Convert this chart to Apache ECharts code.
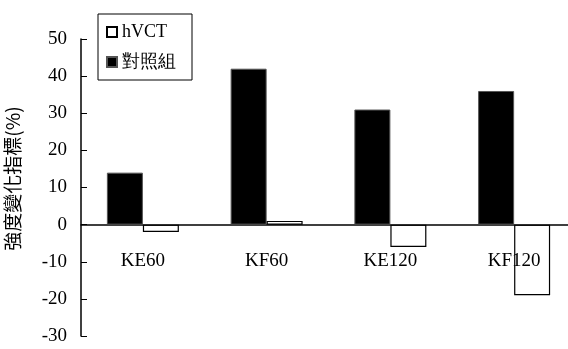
<!DOCTYPE html>
<html lang="zh-Hant">
<head>
  <meta charset="UTF-8">
  <title>強度變化指標</title>
  <style>
    html, body { margin: 0; padding: 0; background: #fff; }
    #main { width: 568px; height: 349px; }
  </style>
</head>
<body>
  <div id="main"></div>
  <script src="https://cdn.jsdelivr.net/npm/echarts@6/dist/echarts.min.js"></script>
  <script>
    var categories = ['KE60', 'KF60', 'KE120', 'KF120']
    var hvctValues = [-2, 1, -6, -19]
    var controlValues = [14, 42, 31, 36]
    var yMin = -30, yMax = 50, yStep = 10

    var serif = '"Liberation Serif", "Times New Roman", serif'
    var gridTop = 39, gridBottom = 13, gridHeight = 349 - gridTop - gridBottom
    // 把x軸(含標籤)移到0的位置
    var zeroOffset = -gridHeight * (0 - yMin) / (yMax - yMin)

    var myChart = echarts.init(document.getElementById('main'))

    var options = {
      animation: false,
      grid: { left: 81, top: gridTop, bottom: gridBottom, width: 495, outerBoundsMode: 'none' },
      legend: {
        orient: 'vertical',
        left: 98,
        top: 14,
        data: ['hVCT', '對照組'],
        icon: 'rect',
        itemWidth: 10,
        itemHeight: 10,
        itemGap: 12,
        padding: [9, 16, 9, 8],
        borderColor: '#000',
        borderWidth: 1,
        textStyle: { fontFamily: serif, fontSize: 18, color: '#000' }
      },
      xAxis: {
        type: 'category',
        data: categories,
        offset: zeroOffset,
        axisLine: { onZero: false, lineStyle: { color: '#000', width: 1.5 } },
        axisTick: { inside: true, length: 6, lineStyle: { color: '#000' } },
        axisLabel: { margin: 27, fontFamily: serif, fontSize: 19, color: '#000' }
      },
      yAxis: {
        type: 'value',
        min: yMin,
        max: yMax,
        interval: yStep,
        name: '強度變化指標(%)',
        nameLocation: 'middle',
        nameGap: 59,
        nameTextStyle: { fontFamily: '"Noto Sans CJK TC", sans-serif', fontSize: 19, color: '#000', padding: [0, 0, 0, 18] },
        axisLine: { show: true, lineStyle: { color: '#000', width: 1.5 } },
        axisTick: { show: true, inside: true, length: 6, lineStyle: { color: '#000' } },
        splitLine: { show: false },
        axisLabel: { margin: 14, fontFamily: serif, fontSize: 19, color: '#000' }
      },
      series: [
        {
          name: '對照組',
          type: 'bar',
          data: controlValues,
          barWidth: 36,
          barGap: 0,
          itemStyle: { color: '#000', borderColor: '#555', borderWidth: 1 }
        },
        {
          name: 'hVCT',
          type: 'bar',
          data: hvctValues,
          barWidth: 36,
          barGap: 0,
          // 空心長條,讓KF120的標籤透出來
          itemStyle: { color: 'rgba(255,255,255,0)', borderColor: '#000', borderWidth: 1.2 }
        }
      ]
    }

    myChart.setOption(options)
  </script>
</body>
</html>
